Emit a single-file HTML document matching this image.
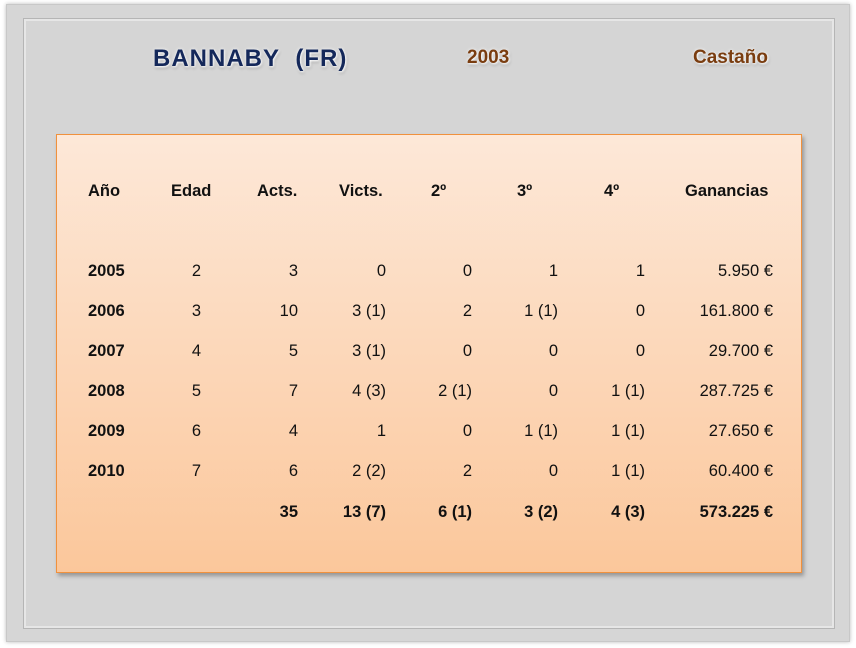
<!DOCTYPE html>
<html><head><meta charset="utf-8"><style>
body{margin:0;width:856px;height:648px;background:#fff;position:relative;overflow:hidden;font-family:"Liberation Sans",sans-serif}
.outer{position:absolute;left:6px;top:4px;width:842px;height:636px;background:#d6d6d6;border:1px solid #c8c8c8;box-shadow:0 0 4px #bbb}
.inner{position:absolute;left:24px;top:19px;width:806px;height:605px;border:2px solid #e6e6e6;outline:1px solid #b5b5b5;background:#d5d5d5}
.box{position:absolute;left:56px;top:134px;width:744px;height:437px;border:1px solid #f0913d;background:linear-gradient(#fde8d8,#fbc79b);box-shadow:2px 3px 4px rgba(0,0,0,.3)}
.t{position:absolute;font-size:16.5px;color:#111;white-space:nowrap;line-height:20px}
.b{font-weight:bold}
.r{text-align:right;width:120px}
.title{position:absolute;font-weight:bold;text-shadow:1px 1px 2px #fff,0 0 3px #fff,1px 2px 3px rgba(0,0,0,.3)}
</style></head><body>
<div class="outer"></div><div class="inner"></div>
<div class="title" style="left:153px;top:45px;font-size:24px;color:#14285a;letter-spacing:1px">BANNABY&nbsp;&nbsp;(FR)</div>
<div class="title" style="left:467px;top:47px;font-size:19px;color:#7a3d10">2003</div>
<div class="title" style="left:693px;top:47px;font-size:19px;color:#7a3d10">Castaño</div>
<div class="box"></div>
<div id="g"></div>
<script>
var cols=[201,298,386,472,558,645,773];
var hdr=[["Año",88],["Edad",171],["Acts.",257],["Victs.",339],["2º",431],["3º",517],["4º",604],["Ganancias",685]];
var h='';
hdr.forEach(function(a){h+='<div class="t b" style="left:'+a[1]+'px;top:181px">'+a[0]+'</div>';});
var rows=[["2005","2","3","0","0","1","1","5.950 €"],["2006","3","10","3 (1)","2","1 (1)","0","161.800 €"],["2007","4","5","3 (1)","0","0","0","29.700 €"],["2008","5","7","4 (3)","2 (1)","0","1 (1)","287.725 €"],["2009","6","4","1","0","1 (1)","1 (1)","27.650 €"],["2010","7","6","2 (2)","2","0","1 (1)","60.400 €"]];
rows.forEach(function(r,i){var y=261+i*40;
h+='<div class="t b" style="left:88px;top:'+y+'px">'+r[0]+'</div>';
for(var j=1;j<8;j++)h+='<div class="t r" style="left:'+(cols[j-1]-120)+'px;top:'+y+'px">'+r[j]+'</div>';});
var tot=["35","13 (7)","6 (1)","3 (2)","4 (3)","573.225 €"];
tot.forEach(function(v,j){h+='<div class="t r b" style="left:'+(cols[j+1]-120)+'px;top:502px">'+v+'</div>';});
document.getElementById('g').innerHTML=h;
</script>
</body></html>
